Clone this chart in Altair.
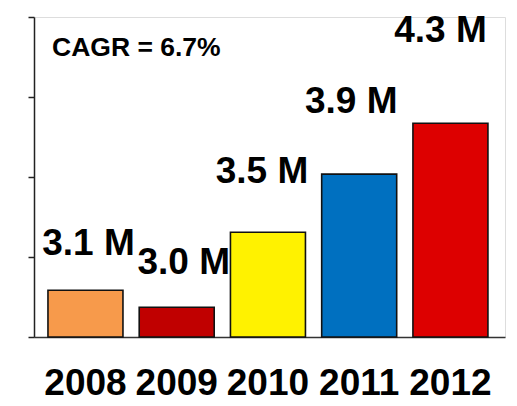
import altair as alt
import numpy as np
import pandas as pd

years = ["2008", "2009", "2010", "2011", "2012"]
values = [3.10, 2.98, 3.51, 3.92, 4.28]          # millions
labels = ["3.1 M", "3.0 M", "3.5 M", "3.9 M", "4.3 M"]
colors = ["#F79A4B", "#C00000", "#FFF200", "#0070C0", "#DD0000"]
cagr = ["CAGR = 6.7%"]

# label placement (px): horizontal shift and rise above bar top
label_dx = [3, 7, -6, -8, -10]
label_rise = [35, 33, 49, 61, 81]

df = pd.DataFrame({"year": years, "value": values, "label": labels})
note_df = pd.DataFrame({"note": cagr})

y_domain = [2.77, 5.03]
tick_vals = [float(v) for v in np.linspace(y_domain[0], y_domain[1], 5)]

FONT = "Liberation Sans"

x_enc = alt.X(
    "year:N",
    sort=years,
    scale=alt.Scale(paddingInner=0.178, paddingOuter=0.17, align=0.45),
    axis=alt.Axis(
        title=None, labelAngle=0, ticks=False, labelFont=FONT,
        labelFontSize=37, labelFontWeight="bold", labelColor="#000",
        labelPadding=57, labelBaseline="alphabetic",
        domainColor="#333", domainWidth=1.5,
    ),
)
y_enc = alt.Y(
    "value:Q",
    scale=alt.Scale(domain=y_domain, zero=False, nice=False),
    axis=alt.Axis(
        title=None, labels=False, grid=False, values=tick_vals,
        tickSize=6, tickColor="#222", tickWidth=1.5,
        domainColor="#222", domainWidth=1.5,
    ),
)

bars = alt.Chart(df).mark_bar(stroke="#111", strokeWidth=1.6).encode(
    x=x_enc,
    y=y_enc,
    y2=alt.datum(y_domain[0]),
    color=alt.Color("year:N", scale=alt.Scale(domain=years, range=colors), legend=None),
)

layers = [bars]
for i, yr in enumerate(years):
    layers.append(
        alt.Chart(df)
        .transform_filter(alt.datum.year == yr)
        .mark_text(
            font=FONT, fontSize=37, fontWeight="bold", color="#000",
            baseline="alphabetic", align="center",
            dx=label_dx[i], dy=-label_rise[i],
        )
        .encode(x=alt.X("year:N", sort=years), y=alt.Y("value:Q"), text="label:N")
    )

note = alt.Chart(note_df).mark_text(
    font=FONT, fontSize=26.5, fontWeight="bold", color="#000",
    baseline="alphabetic", align="left",
).encode(x=alt.value(18), y=alt.value(39), text="note:N")
layers.append(note)

chart = (
    alt.layer(*layers)
    .properties(
        width=471,
        height=320,
        autosize=alt.AutoSizeParams(type="none"),
        padding={"left": 26, "top": 9, "right": 4, "bottom": 68},
    )
    .configure_view(stroke=None)
    .configure(background="white")
)

chart.save("out.html", embed_options={"renderer": "svg", "actions": False})
